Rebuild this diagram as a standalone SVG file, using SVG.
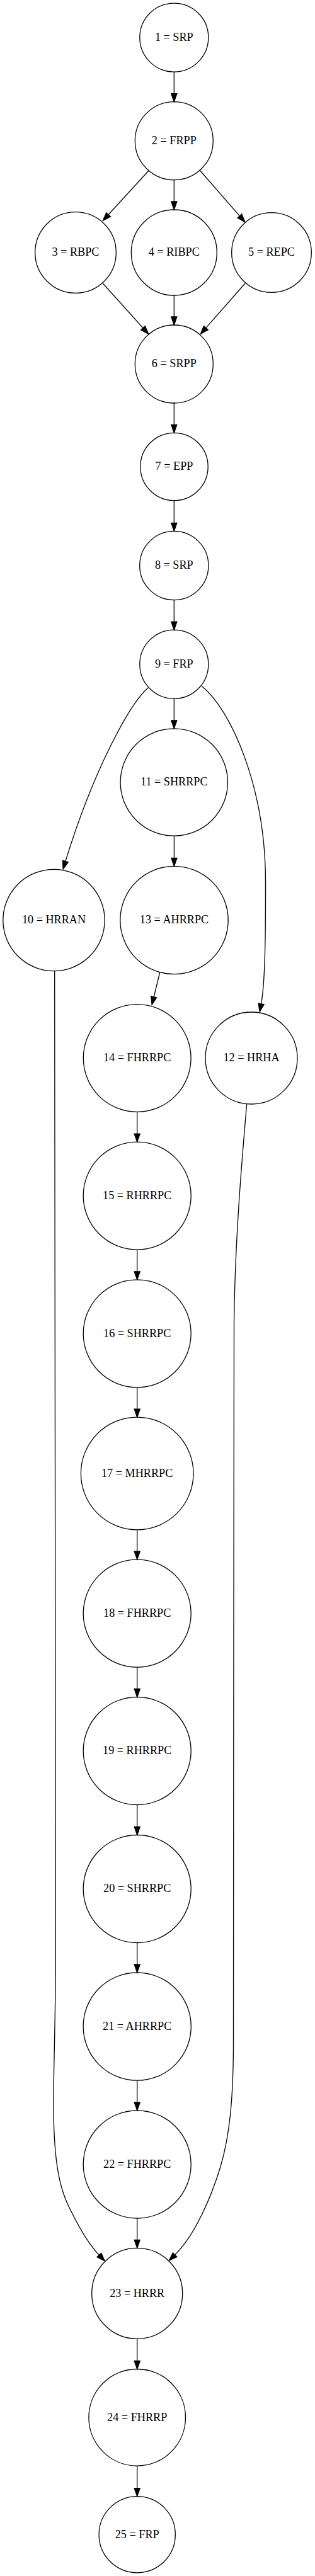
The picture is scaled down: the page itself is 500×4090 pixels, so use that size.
<svg xmlns="http://www.w3.org/2000/svg" width="500" height="4090" viewBox="0 0 500 4090">
<style>
.n circle{fill:none;stroke:#000;stroke-width:1.3}
.n text{font-family:"Liberation Serif","Times New Roman",serif;font-size:18.2px;text-anchor:middle;fill:#000}
.e path{fill:none;stroke:#000;stroke-width:1.3;marker-end:url(#ah)}
</style>
<defs>
<marker id="ah" markerUnits="userSpaceOnUse" orient="auto" refX="0" refY="0" markerWidth="14" markerHeight="10" overflow="visible">
<path d="M0,-4.55 L13,0 L0,4.55 Z" fill="#000" stroke="#000" stroke-width="1.3"/>
</marker>
</defs>
<rect width="500" height="4090" fill="#fff"/>
<g id="edges" class="e">
<path d="M276.3,114 V148.7"/>
<path d="M236,271 L172.1,340.8"/>
<path d="M276.3,285.7 V320"/>
<path d="M317.7,271 L380.4,342.9"/>
<path d="M163.3,450 L227,520.7"/>
<path d="M276.3,469 V503"/>
<path d="M389,450 L326.9,520.6"/>
<path d="M276.3,640 V674.3"/>
<path d="M276.3,794.7 V830.4"/>
<path d="M276.3,952.6 V987.2"/>
<path d="M276.3,1109.2 V1143.8"/>
<path d="M235,1092 C205,1118.4 147.8,1224.6 103.9,1367.6"/>
<path d="M320,1089.3 C366.8,1126.5 421.5,1250 421.5,1400 C421.5,1460 421.8,1554.5 414.6,1593.9"/>
<path d="M276.4,1327.2 V1362.3"/>
<path d="M253.7,1544 L244.2,1582.8"/>
<path d="M86.7,1542 C87.5,1900 88.3,2500 88.3,3100 C88.3,3200 85,3280 85,3340 C85,3420 92,3470 110,3505 C122,3530 138,3560 157.3,3580.4"/>
<path d="M391.7,1752.7 C386,1820 373,1960 371.5,2100 C370.5,2400 371,2900 370.5,3250 C370,3330 365,3390 350,3440 C335.6,3487.9 309.6,3548.5 277.6,3580.1"/>
<path d="M217.7,1765.4 V1800.1"/>
<path d="M217.7,1984.1 V2018.8"/>
<path d="M217.7,2202.8 V2237.2"/>
<path d="M217.7,2428.8 V2463.1"/>
<path d="M217.7,2647.1 V2681.5"/>
<path d="M217.7,2865.5 V2900.5"/>
<path d="M217.7,3084.5 V3119"/>
<path d="M217.7,3303.2 V3338"/>
<path d="M217.7,3522 V3556.4"/>
<path d="M217.7,3713.4 V3748.5"/>
<path d="M217.7,3915.1 V3950.6"/>
</g>
<g id="n1" class="n"><circle cx="276.3" cy="59.6" r="54.5"/><text x="276.3" y="65">1 = SRP</text></g>
<g id="n2" class="n"><circle cx="276.3" cy="223.7" r="62"/><text x="276.3" y="229">2 = FRPP</text></g>
<g id="n3" class="n"><circle cx="120" cy="401" r="64.3"/><text x="120" y="406.3">3 = RBPC</text></g>
<g id="n4" class="n"><circle cx="276.3" cy="401" r="68"/><text x="276.3" y="406.3">4 = RIBPC</text></g>
<g id="n5" class="n"><circle cx="431" cy="401" r="63.3"/><text x="431" y="406.3">5 = REPC</text></g>
<g id="n6" class="n"><circle cx="276.3" cy="578" r="62"/><text x="276.3" y="583.3">6 = SRPP</text></g>
<g id="n7" class="n"><circle cx="276.5" cy="741" r="53.7"/><text x="276.5" y="746.3">7 = EPP</text></g>
<g id="n8" class="n"><circle cx="276.3" cy="898" r="54.6"/><text x="276.3" y="903.3">8 = SRP</text></g>
<g id="n9" class="n"><circle cx="276.3" cy="1054.7" r="54.5"/><text x="276.3" y="1060">9 = FRP</text></g>
<g id="n10" class="n"><circle cx="85.5" cy="1461" r="80.7"/><text x="85.5" y="1466.3">10 = HRRAN</text></g>
<g id="n11" class="n"><circle cx="276.3" cy="1242" r="85.2"/><text x="276.3" y="1247.3">11 = SHRRPC</text></g>
<g id="n12" class="n"><circle cx="399" cy="1680" r="73"/><text x="399" y="1685.3">12 = HRHA</text></g>
<g id="n13" class="n"><circle cx="276.5" cy="1461" r="85.7"/><text x="276.5" y="1466.3">13 = AHRRPC</text></g>
<g id="n14" class="n"><circle cx="217.7" cy="1680" r="85.4"/><text x="217.7" y="1685.3">14 = FHRRPC</text></g>
<g id="n15" class="n"><circle cx="217.7" cy="1898.6" r="85.5"/><text x="217.7" y="1903.9">15 = RHRRPC</text></g>
<g id="n16" class="n"><circle cx="217.7" cy="2117.3" r="85.5"/><text x="217.7" y="2122.6">16 = SHRRPC</text></g>
<g id="n17" class="n"><circle cx="217.7" cy="2339.5" r="89.3"/><text x="217.7" y="2344.8">17 = MHRRPC</text></g>
<g id="n18" class="n"><circle cx="217.7" cy="2561.6" r="85.5"/><text x="217.7" y="2566.9">18 = FHRRPC</text></g>
<g id="n19" class="n"><circle cx="217.7" cy="2780" r="85.5"/><text x="217.7" y="2785.3">19 = RHRRPC</text></g>
<g id="n20" class="n"><circle cx="217.7" cy="2999" r="85.5"/><text x="217.7" y="3004.3">20 = SHRRPC</text></g>
<g id="n21" class="n"><circle cx="217.7" cy="3217.6" r="85.6"/><text x="217.7" y="3222.9">21 = AHRRPC</text></g>
<g id="n22" class="n"><circle cx="217.7" cy="3436.5" r="85.5"/><text x="217.7" y="3441.8">22 = FHRRPC</text></g>
<g id="n23" class="n"><circle cx="217.7" cy="3641.4" r="72"/><text x="217.7" y="3646.7">23 = HRRR</text></g>
<g id="n24" class="n"><circle cx="217.7" cy="3838.3" r="76.8"/><text x="217.7" y="3843.6">24 = FHRRP</text></g>
<g id="n25" class="n"><circle cx="217.7" cy="4024.2" r="60.6"/><text x="217.7" y="4029.5">25 = FRP</text></g>
</svg>
